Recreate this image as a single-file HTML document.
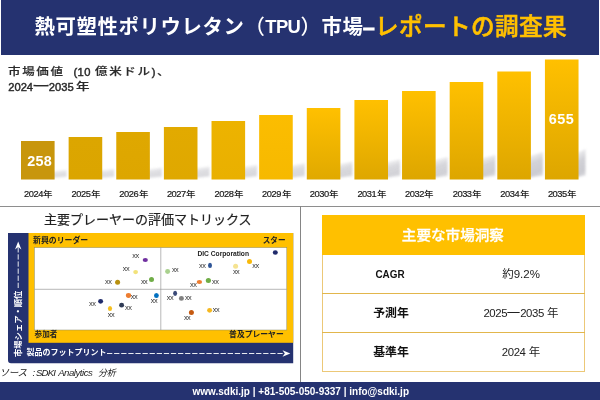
<!DOCTYPE html>
<html lang="ja"><head><meta charset="utf-8">
<style>
*{box-sizing:border-box;margin:0;padding:0}
html,body{width:600px;height:400px;overflow:hidden;background:#fff}
body{position:relative;font-family:"Liberation Sans","Noto Sans CJK JP",sans-serif;color:#222}
.abs{position:absolute}
#hdr{left:1px;top:0;width:598px;height:55px;background:#253270}
#title{left:0;top:9px;height:36px;line-height:36px;white-space:nowrap;color:#fff;font-weight:bold;font-size:20.4px;letter-spacing:.6px}
#title span{position:absolute;top:0;line-height:36px}
#title .y{color:#ffc000;font-size:23.6px;font-weight:500;letter-spacing:.4px;-webkit-text-stroke:.55px #ffc000}
#sub{left:0;top:64px;color:#2b2b2b}
#sub span{position:absolute;white-space:nowrap;line-height:16px;display:block}
#sub .j{font-size:10.4px;letter-spacing:1.4px;font-weight:500;transform:scaleX(1.2);transform-origin:0 50%;-webkit-text-stroke:.2px #2b2b2b}
#sub .n{font-size:11.2px;letter-spacing:0;-webkit-text-stroke:.45px #2b2b2b}
.yl{position:absolute;top:188px;width:48px;text-align:center;font-size:9.3px;color:#1a1a1a;line-height:12px;white-space:nowrap}
.yl .d{letter-spacing:-.45px;-webkit-text-stroke:.2px #1a1a1a}
.yl .n{display:inline-block;font-size:8.1px;transform:scaleX(1.18);transform-origin:0 50%;margin-left:.6px;font-weight:500}
.val{position:absolute;color:#fff;font-weight:bold;font-size:14.4px;letter-spacing:.5px;width:40px;text-align:center;line-height:16px}
#hline{left:0;top:206px;width:600px;height:1px;background:#8e8e8e}
#vline{left:300px;top:206px;width:1px;height:176px;background:#858585}
#ftr{left:0;top:382px;width:600px;height:18px;background:#253270;color:#fff;font-weight:bold;font-size:10px;line-height:19px;text-align:center;padding-left:1.6px}
#src{left:0;top:365.6px;font-size:9.6px;font-style:italic;color:#222}
#src span{position:absolute;top:0;line-height:14px;white-space:nowrap}
#mtitle{left:44px;top:210px;width:206px;text-align:center;font-size:13px;line-height:19px;color:#222;white-space:nowrap;-webkit-text-stroke:.2px #222}
#th{left:321.5px;top:214.5px;width:263px;height:40px;background:#ffc000;color:#fff;font-weight:500;font-size:13.4px;line-height:41px;text-align:center}
#th span{display:inline-block;transform:scaleX(1.09);-webkit-text-stroke:.3px #fff}
#tb{left:321.5px;top:254.5px;width:263px;height:117px;border:1px solid #ecc877;border-top:none}
.row{position:absolute;left:321.5px;width:263px;height:39px;border-bottom:1px solid #e2b64c;font-size:11.5px;line-height:38px}
.row .k{position:absolute;left:1.5px;width:136px;text-align:center;font-weight:bold;color:#111;font-size:11.9px}
.row .dg{letter-spacing:-.4px;font-size:11.4px}
.row .ds{display:inline-block;width:13px;text-align:center;transform:scaleX(1.35)}
.row .k.l{font-size:11.4px;transform:scaleX(.87);left:.8px}
.row .v{position:absolute;left:136px;width:127px;text-align:center;color:#222}
</style></head><body>
<div id="hdr" class="abs"></div>
<div id="title" class="abs"><span style="left:34.6px">熱可塑性ポリウレタン</span><span style="left:244.6px;font-weight:500">（</span><span style="left:265.3px;font-size:18.4px;letter-spacing:-.65px;top:.3px">TPU</span><span style="left:300.5px;font-weight:500">）</span><span style="left:321.5px">市場</span><span style="left:363px;font-size:21px;-webkit-text-stroke:1px #fff;letter-spacing:0">–</span><span class="y" style="left:375px">レポートの調査果</span></div>
<div id="sub" class="abs"><span class="j" style="left:7.8px;top:0">市場価値</span><span class="n" style="left:73.4px;top:0;letter-spacing:.45px">(10</span><span class="j" style="left:94.8px;top:0">億米ドル</span><span class="n" style="left:151.8px;top:0">)</span><span class="j" style="left:157px;top:0">、</span><span class="n" style="left:8.2px;top:14.6px">2024</span><span class="j" style="left:32.2px;top:14.6px;letter-spacing:0;transform:scaleX(1.75);transform-origin:0 50%">ー</span><span class="n" style="left:48.8px;top:14.6px">2035</span><span class="j" style="left:76.3px;top:14.6px;transform:scaleX(1.3)">年</span></div>
<svg class="abs" style="left:0;top:0" width="600" height="400" viewBox="0 0 600 400"><defs><linearGradient id="g0" x1="0" y1="0" x2="0" y2="1"><stop offset="0" stop-color="#c8960c"/><stop offset="1" stop-color="#c8960c"/></linearGradient><linearGradient id="g1" x1="0" y1="0" x2="0" y2="1"><stop offset="0" stop-color="#dca600"/><stop offset="1" stop-color="#dba500"/></linearGradient><linearGradient id="g2" x1="0" y1="0" x2="0" y2="1"><stop offset="0" stop-color="#dfa800"/><stop offset="1" stop-color="#dda600"/></linearGradient><linearGradient id="g3" x1="0" y1="0" x2="0" y2="1"><stop offset="0" stop-color="#e2aa00"/><stop offset="1" stop-color="#dfa800"/></linearGradient><linearGradient id="g4" x1="0" y1="0" x2="0" y2="1"><stop offset="0" stop-color="#edb300"/><stop offset="1" stop-color="#e9b000"/></linearGradient><linearGradient id="g5" x1="0" y1="0" x2="0" y2="1"><stop offset="0" stop-color="#fcbd00"/><stop offset="1" stop-color="#f6b900"/></linearGradient><linearGradient id="g6" x1="0" y1="0" x2="0" y2="1"><stop offset="0" stop-color="#ffc000"/><stop offset="1" stop-color="#e0a900"/></linearGradient><linearGradient id="g7" x1="0" y1="0" x2="0" y2="1"><stop offset="0" stop-color="#ffc000"/><stop offset="1" stop-color="#dea700"/></linearGradient><linearGradient id="g8" x1="0" y1="0" x2="0" y2="1"><stop offset="0" stop-color="#ffc000"/><stop offset="1" stop-color="#dda600"/></linearGradient><linearGradient id="g9" x1="0" y1="0" x2="0" y2="1"><stop offset="0" stop-color="#ffc000"/><stop offset="1" stop-color="#dda600"/></linearGradient><linearGradient id="g10" x1="0" y1="0" x2="0" y2="1"><stop offset="0" stop-color="#ffc000"/><stop offset="1" stop-color="#dda600"/></linearGradient><linearGradient id="g11" x1="0" y1="0" x2="0" y2="1"><stop offset="0" stop-color="#ffc000"/><stop offset="1" stop-color="#dda600"/></linearGradient><linearGradient id="sg" x1="0" y1="0" x2="0.25" y2="1"><stop offset="0" stop-color="#a4a4ae" stop-opacity="0"/><stop offset="0.5" stop-color="#a4a4ae" stop-opacity="0.5"/><stop offset="0.9" stop-color="#a4a4ae" stop-opacity="0.58"/><stop offset="1" stop-color="#a4a4ae" stop-opacity="0.45"/></linearGradient><filter id="bl" x="-50%" y="-50%" width="200%" height="200%"><feGaussianBlur stdDeviation="1.3"/></filter></defs><polygon points="50.6,178.0 50.6,171.4 66.6,169.7 66.6,177.1" fill="url(#sg)" opacity="0.64" filter="url(#bl)"/><polygon points="98.2,178.0 98.2,170.5 114.2,168.7 114.2,177.0" fill="url(#sg)" opacity="0.66" filter="url(#bl)"/><polygon points="145.9,178.0 145.9,169.5 161.9,167.4 161.9,176.9" fill="url(#sg)" opacity="0.69" filter="url(#bl)"/><polygon points="193.5,178.0 193.5,168.4 209.5,166.2 209.5,176.8" fill="url(#sg)" opacity="0.71" filter="url(#bl)"/><polygon points="241.1,178.0 241.1,167.1 257.1,164.7 257.1,176.6" fill="url(#sg)" opacity="0.74" filter="url(#bl)"/><polygon points="288.8,178.0 288.8,165.9 304.8,163.1 304.8,176.5" fill="url(#sg)" opacity="0.77" filter="url(#bl)"/><polygon points="336.4,178.0 336.4,164.4 352.4,161.4 352.4,176.3" fill="url(#sg)" opacity="0.81" filter="url(#bl)"/><polygon points="384.0,178.0 384.0,162.7 400.0,159.3 400.0,176.1" fill="url(#sg)" opacity="0.85" filter="url(#bl)"/><polygon points="431.6,178.0 431.6,160.8 447.6,157.0 447.6,175.9" fill="url(#sg)" opacity="0.89" filter="url(#bl)"/><polygon points="479.3,178.0 479.3,158.9 495.3,154.8 495.3,175.7" fill="url(#sg)" opacity="0.94" filter="url(#bl)"/><polygon points="526.9,178.0 526.9,156.7 542.9,152.1 542.9,175.5" fill="url(#sg)" opacity="0.99" filter="url(#bl)"/><polygon points="574.5,178.0 574.5,154.1 585.5,149.0 585.5,175.2" fill="url(#sg)" opacity="1.00" filter="url(#bl)"/><rect x="21.00" y="141" width="33.6" height="38.5" fill="url(#g0)"/><rect x="68.63" y="137" width="33.6" height="42.5" fill="url(#g1)"/><rect x="116.26" y="132" width="33.6" height="47.5" fill="url(#g2)"/><rect x="163.89" y="127" width="33.6" height="52.5" fill="url(#g3)"/><rect x="211.52" y="121" width="33.6" height="58.5" fill="url(#g4)"/><rect x="259.15" y="115" width="33.6" height="64.5" fill="url(#g5)"/><rect x="306.78" y="108" width="33.6" height="71.5" fill="url(#g6)"/><rect x="354.41" y="100" width="33.6" height="79.5" fill="url(#g7)"/><rect x="402.04" y="91" width="33.6" height="88.5" fill="url(#g8)"/><rect x="449.67" y="82" width="33.6" height="97.5" fill="url(#g9)"/><rect x="497.30" y="71.5" width="33.6" height="108.0" fill="url(#g10)"/><rect x="544.93" y="59.5" width="33.6" height="120.0" fill="url(#g11)"/></svg>
<div class="yl" style="left:13.8px"><span class="d">2024</span><span class="n">年</span></div><div class="yl" style="left:61.4px"><span class="d">2025</span><span class="n">年</span></div><div class="yl" style="left:109.1px"><span class="d">2026</span><span class="n">年</span></div><div class="yl" style="left:156.7px"><span class="d">2027</span><span class="n">年</span></div><div class="yl" style="left:204.3px"><span class="d">2028</span><span class="n">年</span></div><div class="yl" style="left:251.9px"><span class="d">2029</span><span class="n">年</span></div><div class="yl" style="left:299.6px"><span class="d">2030</span><span class="n">年</span></div><div class="yl" style="left:347.2px"><span class="d">2031</span><span class="n">年</span></div><div class="yl" style="left:394.8px"><span class="d">2032</span><span class="n">年</span></div><div class="yl" style="left:442.5px"><span class="d">2033</span><span class="n">年</span></div><div class="yl" style="left:490.1px"><span class="d">2034</span><span class="n">年</span></div><div class="yl" style="left:537.7px"><span class="d">2035</span><span class="n">年</span></div>
<div class="val" style="left:19.6px;top:152.9px;letter-spacing:.3px">258</div>
<div class="val" style="left:541.4px;top:111px">655</div>
<div id="hline" class="abs"></div>
<div id="vline" class="abs"></div>
<div id="mtitle" class="abs">主要プレーヤーの評価マトリックス</div>
<svg class="abs" style="left:0;top:0" width="600" height="400" viewBox="0 0 600 400" font-family="'Liberation Sans','Noto Sans CJK JP',sans-serif"><path d="M8,233 H293.2 V363.3 H11 Q8,363.3 8,360 Z" fill="#253270"/><rect x="28.5" y="233" width="264.7" height="109.8" fill="#ffc000"/><rect x="34.4" y="247.6" width="252.4" height="82.4" fill="#fff" stroke="#8a8a6a" stroke-width="0.5"/><line x1="34.4" y1="289.3" x2="286.8" y2="289.3" stroke="#9a9a9a" stroke-width="0.7"/><line x1="160.8" y1="247.4" x2="160.8" y2="330" stroke="#9a9a9a" stroke-width="0.7"/><ellipse cx="145.3" cy="260.0" rx="2.6" ry="2.1" fill="#7030a0"/><ellipse cx="135.6" cy="272.1" rx="2.4" ry="2.1" fill="#f2e27a"/><ellipse cx="151.5" cy="279.6" rx="2.5" ry="2.5" fill="#70ad47"/><ellipse cx="117.6" cy="282.3" rx="2.5" ry="2.5" fill="#b8900f"/><ellipse cx="128.5" cy="295.5" rx="2.6" ry="2.4" fill="#ed7d31"/><ellipse cx="156.4" cy="295.5" rx="2.4" ry="2.5" fill="#0070c0"/><ellipse cx="100.6" cy="301.3" rx="2.5" ry="2.4" fill="#1f2a6b"/><ellipse cx="121.6" cy="305.2" rx="2.5" ry="2.4" fill="#2f3b55"/><ellipse cx="110.0" cy="308.5" rx="2.1" ry="2.6" fill="#f5c020"/><ellipse cx="167.6" cy="271.5" rx="2.5" ry="2.4" fill="#a9d18e"/><ellipse cx="210.0" cy="265.4" rx="2.0" ry="2.6" fill="#2f5597"/><ellipse cx="235.6" cy="266.2" rx="2.5" ry="2.5" fill="#f5e391"/><ellipse cx="199.4" cy="281.9" rx="2.7" ry="2.0" fill="#ed7d31"/><ellipse cx="208.4" cy="280.5" rx="2.6" ry="2.5" fill="#70ad47"/><ellipse cx="175.1" cy="293.3" rx="2.0" ry="2.6" fill="#3b4a78"/><ellipse cx="181.4" cy="298.4" rx="2.5" ry="2.4" fill="#808080"/><ellipse cx="275.3" cy="252.5" rx="2.5" ry="2.3" fill="#1f2a6b"/><ellipse cx="249.5" cy="261.5" rx="2.5" ry="2.5" fill="#f8b90a"/><ellipse cx="191.4" cy="312.4" rx="2.5" ry="2.5" fill="#c55a11"/><ellipse cx="209.6" cy="310.3" rx="2.5" ry="2.4" fill="#f5b820"/><text x="135.4" y="258.1" font-size="7.4" text-anchor="middle" fill="#333" letter-spacing="-0.5">xx</text><text x="126" y="271.1" font-size="7.4" text-anchor="middle" fill="#333" letter-spacing="-0.5">xx</text><text x="108.3" y="284.1" font-size="7.4" text-anchor="middle" fill="#333" letter-spacing="-0.5">xx</text><text x="144.1" y="284.0" font-size="7.4" text-anchor="middle" fill="#333" letter-spacing="-0.5">xx</text><text x="134" y="299.1" font-size="7.4" text-anchor="middle" fill="#333" letter-spacing="-0.5">xx</text><text x="154" y="303.1" font-size="7.4" text-anchor="middle" fill="#333" letter-spacing="-0.5">xx</text><text x="92.2" y="305.90000000000003" font-size="7.4" text-anchor="middle" fill="#333" letter-spacing="-0.5">xx</text><text x="111" y="317.1" font-size="7.4" text-anchor="middle" fill="#333" letter-spacing="-0.5">xx</text><text x="128.2" y="310.1" font-size="7.4" text-anchor="middle" fill="#333" letter-spacing="-0.5">xx</text><text x="175.1" y="272.1" font-size="7.4" text-anchor="middle" fill="#333" letter-spacing="-0.5">xx</text><text x="202.2" y="268.0" font-size="7.4" text-anchor="middle" fill="#333" letter-spacing="-0.5">xx</text><text x="236.1" y="274.20000000000005" font-size="7.4" text-anchor="middle" fill="#333" letter-spacing="-0.5">xx</text><text x="193.2" y="287.0" font-size="7.4" text-anchor="middle" fill="#333" letter-spacing="-0.5">xx</text><text x="215.3" y="283.8" font-size="7.4" text-anchor="middle" fill="#333" letter-spacing="-0.5">xx</text><text x="170" y="300.1" font-size="7.4" text-anchor="middle" fill="#333" letter-spacing="-0.5">xx</text><text x="188.1" y="300.1" font-size="7.4" text-anchor="middle" fill="#333" letter-spacing="-0.5">xx</text><text x="255.4" y="268.0" font-size="7.4" text-anchor="middle" fill="#333" letter-spacing="-0.5">xx</text><text x="187.1" y="319.8" font-size="7.4" text-anchor="middle" fill="#333" letter-spacing="-0.5">xx</text><text x="216" y="312.0" font-size="7.4" text-anchor="middle" fill="#333" letter-spacing="-0.5">xx</text><text x="197.4" y="256.4" font-size="7.6" font-weight="bold" fill="#222" textLength="51.6" lengthAdjust="spacingAndGlyphs">DIC Corporation</text><text x="33" y="243" font-size="7.9" font-weight="bold" fill="#222">新興のリーダー</text><text x="285.5" y="243" font-size="7.6" font-weight="bold" fill="#222" text-anchor="end">スター</text><text x="34.6" y="336.8" font-size="7.6" font-weight="bold" fill="#222">参加者</text><text x="283.7" y="336.5" font-size="7.8" font-weight="bold" fill="#222" text-anchor="end">普及プレーヤー</text><text x="26.6" y="355" font-size="8" font-weight="bold" fill="#fff">製品のフットプリント</text><line x1="107" y1="353.5" x2="284" y2="353.5" stroke="#fff" stroke-width="0.9" stroke-dasharray="5.3,1.8"/><path d="M290.3,353.5 L282.5,350.3 L284.8,353.5 L282.5,356.7 Z" fill="#fff"/><text transform="translate(21.2,357) rotate(-90)" font-size="8.3" font-weight="bold" fill="#fff">市場シェア・順位</text><line x1="18.2" y1="288" x2="18.2" y2="247" stroke="#fff" stroke-width="0.9" stroke-dasharray="5.3,1.8"/><path d="M18.2,241.6 L15,249.4 L18.2,247.1 L21.4,249.4 Z" fill="#fff"/></svg>
<div id="src" class="abs"><span style="left:-.6px;font-size:9.6px;letter-spacing:-.3px">ソース</span><span style="left:32.6px">:</span><span style="left:36px;letter-spacing:-.85px">SDKI</span><span style="left:58.2px;letter-spacing:-.47px">Analytics</span><span style="left:98px;font-size:9px;letter-spacing:-.3px">分析</span></div>
<div id="th" class="abs"><span>主要な市場洞察</span></div>
<div id="tb" class="abs"></div>
<div class="row" style="top:254.5px"><span class="k l">CAGR</span><span class="v">約9.2%</span></div>
<div class="row" style="top:293.5px"><span class="k">予測年</span><span class="v"><span class="dg">2025</span><span class="ds">ー</span><span class="dg">2035</span> 年</span></div>
<div class="row" style="top:333px;border-bottom:none"><span class="k">基準年</span><span class="v"><span class="dg">2024</span> 年</span></div>
<div id="ftr" class="abs">www.sdki.jp | +81-505-050-9337 | info@sdki.jp</div>
</body></html>
